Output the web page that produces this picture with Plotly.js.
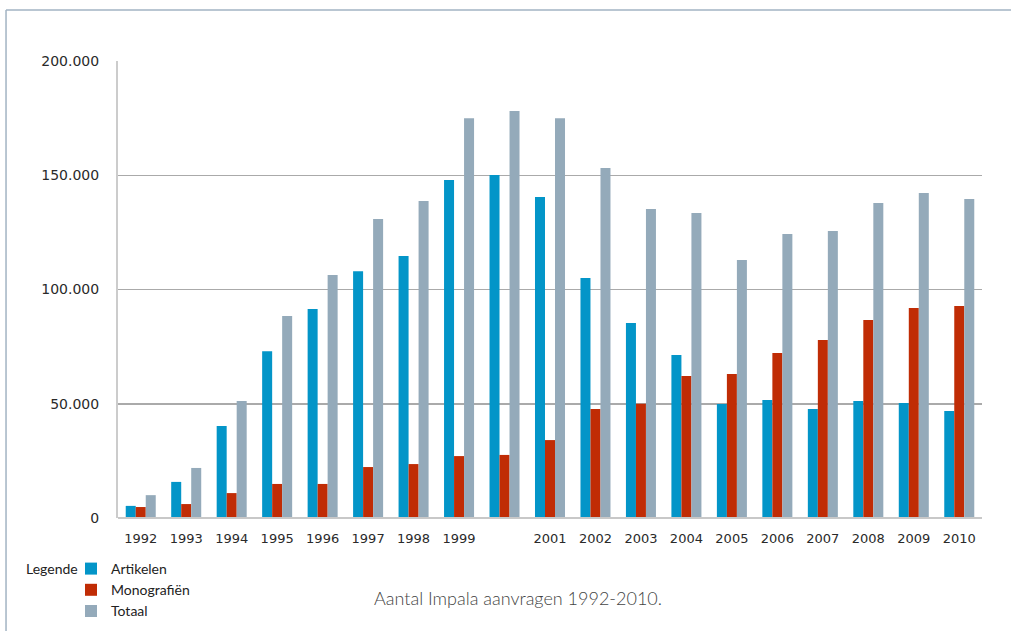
<!DOCTYPE html>
<html>
<head>
<meta charset="utf-8">
<script src="https://cdn.plot.ly/plotly-3.0.1.min.js"></script>
<style>html,body{margin:0;padding:0;background:#fff;}#chart{width:1011px;height:631px;}</style>
</head>
<body>
<div id="chart"></div>
<script>
const years = ["1992","1993","1994","1995","1996","1997","1998","1999","2000","2001","2002","2003","2004","2005","2006","2007","2008","2009","2010"];
const yearLabels = ["1992","1993","1994","1995","1996","1997","1998","1999","","2001","2002","2003","2004","2005","2006","2007","2008","2009","2010"];
const artikelen = [5300,15800,40300,73000,91500,108000,114700,147900,150100,140500,105000,85300,71300,49900,51600,47700,51200,50300,46800];
const monografien = [4800,6100,10900,14900,14900,22300,23600,27100,27600,34100,47700,50000,62100,63000,72200,77900,86700,91900,92800];
const totaal = [10000,21900,51200,88400,106300,130900,138700,175000,178100,175000,153200,135200,133500,112900,124300,125600,137900,142200,139600];
const yTickVals = [0,50000,100000,150000,200000];
const yTickText = ["0","50.000","100.000","150.000","200.000"];

const FONT = "Lato, 'Open Sans', sans-serif";
const TICKFONT = "'DejaVu Sans', sans-serif";
const traces = [
  {type:"bar", name:"Artikelen", x:years, y:artikelen, marker:{color:"#0395c8"}},
  {type:"bar", name:"Monografiën", x:years, y:monografien, marker:{color:"#c02c05"}},
  {type:"bar", name:"Totaal", x:years, y:totaal, marker:{color:"#94aaba"}}
];
const layout = {
  width:1011, height:631,
  margin:{l:118, r:29, t:61, b:113, autoexpand:false},
  paper_bgcolor:"#fff", plot_bgcolor:"#fff",
  barmode:"group", bargap:0.34, bargroupgap:0,
  font:{family:FONT, size:14, color:"#222"},
  showlegend:true,
  legend:{x:(71-118)/864, y:(518-553)/457, xanchor:"left", yanchor:"top", orientation:"v",
          font:{family:FONT, size:14, color:"#222"}, tracegroupgap:0, itemwidth:30, bgcolor:"rgba(0,0,0,0)"},
  xaxis:{type:"category", tickvals:years, ticktext:yearLabels, showgrid:false, zeroline:false,
         showline:false, ticks:"", ticklabelstandoff:11, tickfont:{family:TICKFONT, size:13, color:"#2a2a2a"}},
  yaxis:{range:[0,200000], tickvals:yTickVals, ticktext:yTickText, showgrid:true, gridcolor:"#aaaaaa", gridwidth:1.5,
         zeroline:false, showline:true, linecolor:"#cccccc", linewidth:2, ticks:"", ticklabelstandoff:14,
         tickfont:{family:TICKFONT, size:14, color:"#2a2a2a"}},
  shapes:[
    {type:"line", xref:"paper", yref:"paper", x0:0, x1:1, y0:0, y1:0, line:{color:"#c8c8c8", width:2}},
    {type:"line", xref:"paper", yref:"paper", x0:-0.1296, x1:1.06, y0:1.1116, y1:1.1116, line:{color:"#a2b3c3", width:1.5}},
    {type:"line", xref:"paper", yref:"paper", x0:-0.1296, x1:-0.1296, y0:-0.3, y1:1.1116, line:{color:"#a2b3c3", width:1.5}}
  ],
  annotations:[
    {text:"Legende", xref:"paper", yref:"paper", x:(24-118)/864, y:(518-568)/457, xanchor:"left", yanchor:"middle",
     showarrow:false, font:{family:FONT, size:14, color:"#222"}},
    {text:"Aantal Impala aanvragen 1992-2010.", xref:"paper", yref:"paper", x:(372-118)/864, y:(518-598)/457,
     xanchor:"left", yanchor:"middle", showarrow:false, font:{family:FONT, size:18, color:"#444", weight:300}}
  ]
};
Plotly.newPlot("chart", traces, layout, {displayModeBar:false, staticPlot:true});
</script>
</body>
</html>
